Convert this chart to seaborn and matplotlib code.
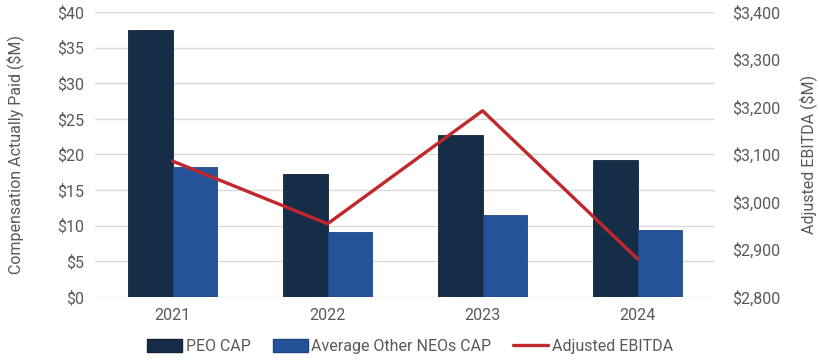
import numpy as np
import pandas as pd
import seaborn as sns
import matplotlib.pyplot as plt
from matplotlib.patches import Patch
from matplotlib.lines import Line2D

# data
years = ["2021", "2022", "2023", "2024"]
peo_cap = [37.5, 17.3, 22.7, 19.2]
other_neo_cap = [18.2, 9.1, 11.5, 9.4]
adj_ebitda = [3086, 2954, 3192, 2880]

left_ticks = [0, 5, 10, 15, 20, 25, 30, 35, 40]
right_ticks = [2800, 2900, 3000, 3100, 3200, 3300, 3400]

peo_color = "#152d46"
neo_color = "#24539a"
line_color = "#c1272d"
text_color = "#595959"
grid_color = "#d9d9d9"
fs = 11.5

sns.set_theme(style="white")
plt.rcParams["font.family"] = ["Roboto", "DejaVu Sans"]

df = pd.DataFrame({
    "year": years * 2,
    "value": peo_cap + other_neo_cap,
    "series": ["PEO CAP"] * 4 + ["Average Other NEOs CAP"] * 4,
})

fig, ax = plt.subplots(figsize=(8.2, 3.63), dpi=100)
fig.subplots_adjust(left=0.116, right=0.872, top=0.967, bottom=0.182)

sns.barplot(data=df, x="year", y="value", hue="series",
            palette=[peo_color, neo_color], saturation=1, width=0.57, gap=0,
            edgecolor="#10243a", linewidth=0.6, ax=ax, legend=False)
# lighter edge for the blue bars
for p in ax.patches[4:]:
    p.set_edgecolor("#1d4683")

ax.set_ylim(0, 40)
ax.set_xlim(-0.5, 3.5)
ax.set_yticks(left_ticks)
ax.set_yticklabels([f"${t}" for t in left_ticks])
ax.yaxis.grid(True, color=grid_color, linewidth=1)
ax.set_axisbelow(True)
ax.set_xlabel("")
ax.set_ylabel("Compensation Actually Paid ($M)", color=text_color, fontsize=fs, labelpad=24)
ax.tick_params(axis="both", colors=text_color, labelsize=fs, length=0, pad=8)
for s in ax.spines.values():
    s.set_visible(False)

ax2 = ax.twinx()
sns.lineplot(x=np.arange(len(years)), y=adj_ebitda, color=line_color,
             linewidth=2.4, ax=ax2)
ax2.set_ylim(2800, 3400)
ax2.set_yticks(right_ticks)
ax2.set_yticklabels([f"${t:,}" for t in right_ticks])
ax2.set_ylabel("Adjusted EBITDA ($M)", color=text_color, fontsize=fs, labelpad=14)
ax2.tick_params(axis="y", colors=text_color, labelsize=fs, length=0, pad=12)
for s in ax2.spines.values():
    s.set_visible(False)

handles = [
    Patch(facecolor=peo_color, edgecolor="#10243a", label="PEO CAP"),
    Patch(facecolor=neo_color, edgecolor="#1d4683", label="Average Other NEOs CAP"),
    Line2D([0], [0], color=line_color, linewidth=2.4, label="Adjusted EBITDA"),
]
leg = fig.legend(handles=handles, loc="lower center", ncol=3, frameon=False,
                 bbox_to_anchor=(0.5, -0.015), fontsize=fs, handlelength=2.2,
                 handletextpad=0.2, columnspacing=1.4, handleheight=0.9)
for t in leg.get_texts():
    t.set_color(text_color)

fig.savefig("out.png", dpi=100)
